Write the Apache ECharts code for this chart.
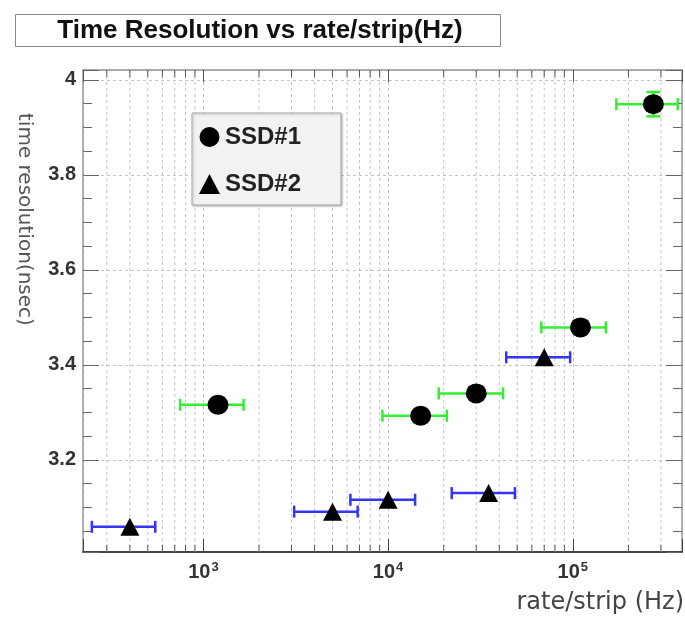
<!DOCTYPE html>
<html lang="en">
<head>
    <meta charset="UTF-8">
    <title>Time Resolution vs rate/strip</title>
    <script src="https://cdn.jsdelivr.net/npm/echarts@6.0.0/dist/echarts.min.js"></script>
    <style>
        html, body { margin: 0; padding: 0; background: #fff; }
        #main { width: 685px; height: 617px; }
    </style>
</head>
<body>
<div id="main"></div>
<script>
    // axis ranges
    var X_MIN = 223, X_MAX = 390000;
    var Y_MIN = 3.006, Y_MAX = 4.021;

    // SSD#1 (circles, green error bars)
    var ssd1X    = [1200, 15000, 30000, 110000, 273000];
    var ssd1Y    = [3.316, 3.293, 3.340, 3.479, 3.949];
    var ssd1XLo  = [748, 9320, 18800, 67500, 172000];
    var ssd1XHi  = [1650, 20800, 41900, 151000, 370000];
    var ssd1YErr = [0.015, 0.015, 0.015, 0.015, 0.0257];

    // SSD#2 (triangles, blue error bars)
    var ssd2X    = [400, 5000, 10000, 35000, 70000];
    var ssd2Y    = [3.059, 3.091, 3.116, 3.130, 3.416];
    var ssd2XLo  = [249, 3100, 6250, 22100, 43600];
    var ssd2XHi  = [549, 6840, 14000, 48600, 96700];
    var ssd2YErr = [0, 0, 0, 0, 0];

    // minor log ticks (2..9 x 10^k) inside the range
    var minorX = [300, 400, 500, 600, 700, 800, 900,
                  2000, 3000, 4000, 5000, 6000, 7000, 8000, 9000,
                  20000, 30000, 40000, 50000, 60000, 70000, 80000, 90000,
                  200000, 300000];

    var FONT = 'Liberation Sans, Arial, Helvetica, sans-serif';
    var WIDE = 'DejaVu Sans, Verdana, sans-serif';

    function rows(xs, ys, lo, hi, ye) {
        return xs.map(function (x, i) {
            return [x, ys[i], lo[i], hi[i], ys[i] - ye[i], ys[i] + ye[i]];
        });
    }

    function errorBars(color) {
        return function (params, api) {
            var y = api.value(1);
            var pl = api.coord([api.value(2), y]);
            var pr = api.coord([api.value(3), y]);
            var pt = api.coord([api.value(0), api.value(5)]);
            var pb = api.coord([api.value(0), api.value(4)]);
            var st = { stroke: color, lineWidth: 2.5 };
            var cap = 6;
            var kids = [
                { type: 'line', shape: { x1: pl[0], y1: pl[1], x2: pr[0], y2: pr[1] }, style: st },
                { type: 'line', shape: { x1: pl[0], y1: pl[1] - cap, x2: pl[0], y2: pl[1] + cap }, style: st },
                { type: 'line', shape: { x1: pr[0], y1: pr[1] - cap, x2: pr[0], y2: pr[1] + cap }, style: st }
            ];
            if (pb[1] - pt[1] > 1) {
                kids.push({ type: 'line', shape: { x1: pt[0], y1: pt[1], x2: pb[0], y2: pb[1] }, style: st });
                kids.push({ type: 'line', shape: { x1: pt[0] - 7, y1: pt[1], x2: pt[0] + 7, y2: pt[1] }, style: st });
                kids.push({ type: 'line', shape: { x1: pb[0] - 7, y1: pb[1], x2: pb[0] + 7, y2: pb[1] }, style: st });
            }
            return { type: 'group', children: kids };
        };
    }

    // dashed grid + short frame ticks at the minor log positions
    function minorGrid(params, api) {
        var p = api.coord([api.value(0), Y_MIN]);
        var cs = params.coordSys;
        var top = cs.y, bot = cs.y + cs.height;
        var tick = { stroke: '#555', lineWidth: 1 };
        return {
            type: 'group',
            children: [
                { type: 'line', shape: { x1: p[0], y1: top, x2: p[0], y2: bot },
                  style: { stroke: '#c4c4c4', lineWidth: 1, lineDash: [3, 3] } },
                { type: 'line', shape: { x1: p[0], y1: bot - 7, x2: p[0], y2: bot }, style: tick },
                { type: 'line', shape: { x1: p[0], y1: top, x2: p[0], y2: top + 7 }, style: tick }
            ]
        };
    }

    function isStep(v, step) {
        var k = v / step;
        return Math.abs(k - Math.round(k)) < 1e-6;
    }

    var chart = echarts.init(document.getElementById('main'));

    var yBase = { type: 'value', min: Y_MIN, max: Y_MAX, scale: true };

    chart.setOption({
        animation: false,
        backgroundColor: '#fff',
        grid: { left: 83, top: 70, right: -2, bottom: 65, containLabel: false },
        legend: {
            orient: 'vertical',
            left: 192, top: 113,
            padding: [12, 40, 9, 7],
            itemWidth: 21, itemHeight: 20, itemGap: 23,
            backgroundColor: '#f2f2f2',
            borderColor: '#aaa', borderWidth: 1,
            shadowColor: 'rgba(0,0,0,0.25)', shadowBlur: 2, shadowOffsetX: 1, shadowOffsetY: 1,
            textStyle: { fontFamily: FONT, fontWeight: 'bold', fontSize: 24, color: '#222' },
            data: [{ name: 'SSD#1', icon: 'circle' }, { name: 'SSD#2', icon: 'triangle' }]
        },
        xAxis: [{
            type: 'log', logBase: 10, min: X_MIN, max: X_MAX, position: 'bottom',
            axisLine: { onZero: false, lineStyle: { color: '#444', width: 2 } },
            axisTick: { inside: true, length: 13, lineStyle: { color: '#444' } },
            axisLabel: {
                margin: 9,
                formatter: function (v) {
                    var e = Math.log10(v);
                    if (!isStep(e, 1)) return '';
                    return '{b|10}{s|' + Math.round(e) + '}';
                },
                rich: {
                    b: { fontFamily: FONT, fontWeight: 'bold', fontSize: 20, color: '#333' },
                    s: { fontFamily: FONT, fontWeight: 'bold', fontSize: 13, color: '#333', verticalAlign: 'top', padding: [0, 0, 10, 1] }
                }
            },
            splitLine: { show: true, lineStyle: { color: '#c4c4c4', type: [3, 3] } }
        }, {
            type: 'log', logBase: 10, min: X_MIN, max: X_MAX, position: 'top',
            axisLine: { onZero: false, lineStyle: { color: '#aaa', width: 2 } },
            axisTick: { inside: true, length: 12, lineStyle: { color: '#555' } },
            axisLabel: { show: false },
            splitLine: { show: false }
        }],
        yAxis: [
            Object.assign({}, yBase, {
                position: 'left', splitNumber: 5,
                axisLine: { show: true, onZero: false, lineStyle: { color: '#999', width: 1.5 } },
                axisTick: { inside: true, length: 16, lineStyle: { color: '#666' } },
                axisLabel: {
                    margin: 7,
                    fontFamily: FONT, fontWeight: 'bold', fontSize: 20, color: '#333',
                    formatter: function (v) {
                        if (!isStep(v, 0.2)) return '';
                        return isStep(v, 1) ? String(Math.round(v)) : v.toFixed(1);
                    }
                },
                splitLine: { show: true, lineStyle: { color: '#c4c4c4', type: [3, 3] } }
            }),
            Object.assign({}, yBase, {
                position: 'left', splitNumber: 20,
                axisLine: { show: false, onZero: false },
                axisTick: { inside: true, length: 9, lineStyle: { color: '#666' } },
                axisLabel: { show: false }, splitLine: { show: false }
            }),
            Object.assign({}, yBase, {
                position: 'right', splitNumber: 5,
                axisLine: { show: true, onZero: false, lineStyle: { color: '#999', width: 1.5 } },
                axisTick: { inside: true, length: 16, lineStyle: { color: '#666' } },
                axisLabel: { show: false }, splitLine: { show: false }
            }),
            Object.assign({}, yBase, {
                position: 'right', splitNumber: 20,
                axisLine: { show: false, onZero: false },
                axisTick: { inside: true, length: 9, lineStyle: { color: '#666' } },
                axisLabel: { show: false }, splitLine: { show: false }
            })
        ],
        series: [
            {
                type: 'custom', name: 'minor grid', silent: true, z: 1,
                data: minorX.map(function (v) { return [v, Y_MIN]; }),
                renderItem: minorGrid
            },
            {
                type: 'custom', name: 'err1', silent: true, z: 3,
                data: rows(ssd1X, ssd1Y, ssd1XLo, ssd1XHi, ssd1YErr),
                renderItem: errorBars('#33ee33')
            },
            {
                type: 'custom', name: 'err2', silent: true, z: 3,
                data: rows(ssd2X, ssd2Y, ssd2XLo, ssd2XHi, ssd2YErr),
                renderItem: errorBars('#3434f4')
            },
            {
                type: 'scatter', name: 'SSD#1', z: 5,
                symbol: 'circle', symbolSize: [21, 20],
                itemStyle: { color: '#000', opacity: 1 },
                data: ssd1X.map(function (x, i) { return [x, ssd1Y[i]]; })
            },
            {
                type: 'scatter', name: 'SSD#2', z: 5,
                symbol: 'triangle', symbolSize: [19, 18],
                itemStyle: { color: '#000', opacity: 1 },
                data: ssd2X.map(function (x, i) { return [x, ssd2Y[i]]; })
            }
        ],
        graphic: [
            {
                type: 'rect', left: 15, top: 14, z: 10,
                shape: { width: 485, height: 32 },
                style: { fill: '#fff', stroke: '#888', lineWidth: 1 }
            },
            {
                type: 'text', x: 260, y: 31, z: 11,
                style: {
                    text: 'Time Resolution vs rate/strip(Hz)',
                    fontFamily: FONT, fontWeight: 'bold', fontSize: 26, fill: '#111',
                    textAlign: 'center', textVerticalAlign: 'middle'
                }
            },
            {
                type: 'text', x: 24, y: 113, rotation: -Math.PI / 2, z: 10,
                style: {
                    text: 'time resolution(nsec)',
                    fontFamily: WIDE, fontSize: 20, fill: '#555',
                    textAlign: 'left', textVerticalAlign: 'middle'
                }
            },
            {
                type: 'text', x: 684, y: 603, z: 10,
                style: {
                    text: 'rate/strip (Hz)',
                    fontFamily: WIDE, fontSize: 24, fill: '#444',
                    textAlign: 'right', textVerticalAlign: 'middle'
                }
            }
        ]
    });
</script>
</body>
</html>
